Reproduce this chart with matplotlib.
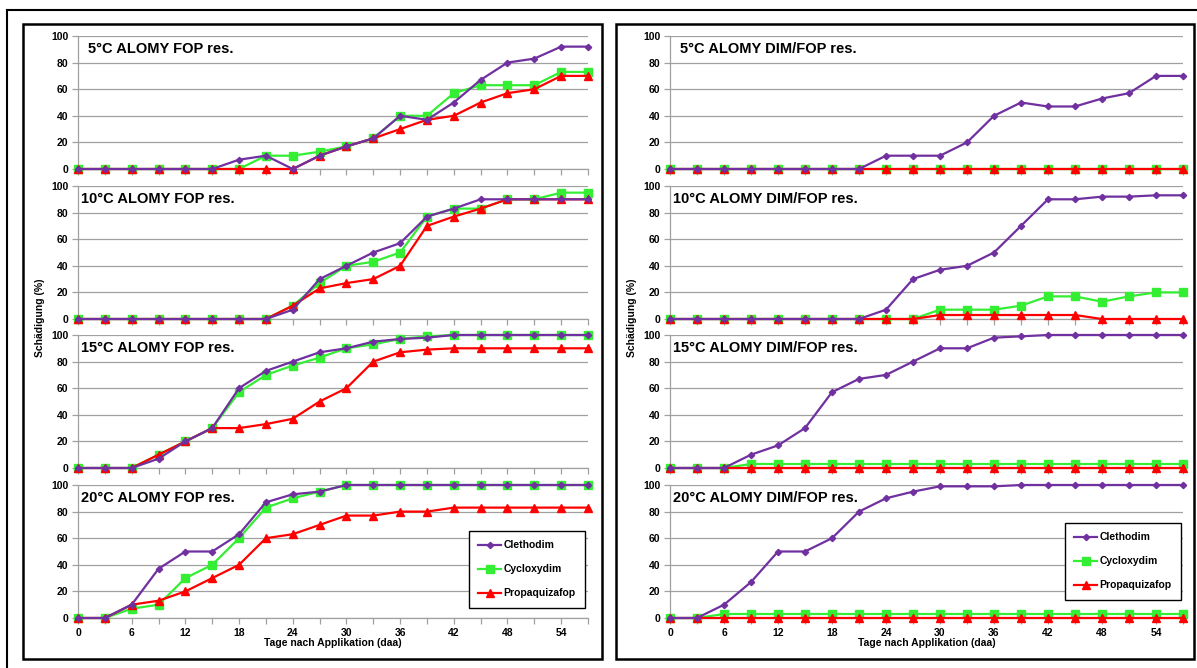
import matplotlib
matplotlib.use("Agg")
import matplotlib.pyplot as plt
from matplotlib.patches import Rectangle
from matplotlib.lines import Line2D
from matplotlib.ticker import MultipleLocator

plt.rcParams["font.family"] = ["Liberation Sans", "DejaVu Sans"]
plt.rcParams["font.weight"] = "bold"

# days after application
days = [0, 3, 6, 9, 12, 15, 18, 21, 24, 27, 30, 33, 36, 39, 42, 45, 48, 51, 54, 57]

# left block: ALOMY FOP res.
fop_5_cle = [0, 0, 0, 0, 0, 0, 7, 10, 0, 10, 17, 23, 40, 37, 50, 67, 80, 83, 92, 92]
fop_5_cyc = [0, 0, 0, 0, 0, 0, 0, 10, 10, 13, 17, 23, 40, 40, 57, 63, 63, 63, 73, 73]
fop_5_pro = [0, 0, 0, 0, 0, 0, 0, 0, 0, 10, 17, 23, 30, 37, 40, 50, 57, 60, 70, 70]

fop_10_cle = [0, 0, 0, 0, 0, 0, 0, 0, 7, 30, 40, 50, 57, 77, 83, 90, 90, 90, 90, 90]
fop_10_cyc = [0, 0, 0, 0, 0, 0, 0, 0, 10, 27, 40, 43, 50, 77, 83, 83, 90, 90, 95, 95]
fop_10_pro = [0, 0, 0, 0, 0, 0, 0, 0, 10, 23, 27, 30, 40, 70, 77, 83, 90, 90, 90, 90]

fop_15_cle = [0, 0, 0, 7, 20, 30, 60, 73, 80, 87, 90, 95, 97, 98, 100, 100, 100, 100, 100, 100]
fop_15_cyc = [0, 0, 0, 10, 20, 30, 57, 70, 77, 83, 90, 93, 97, 99, 100, 100, 100, 100, 100, 100]
fop_15_pro = [0, 0, 0, 10, 20, 30, 30, 33, 37, 50, 60, 80, 87, 89, 90, 90, 90, 90, 90, 90]

fop_20_cle = [0, 0, 10, 37, 50, 50, 63, 87, 93, 95, 100, 100, 100, 100, 100, 100, 100, 100, 100, 100]
fop_20_cyc = [0, 0, 7, 10, 30, 40, 60, 83, 90, 95, 100, 100, 100, 100, 100, 100, 100, 100, 100, 100]
fop_20_pro = [0, 0, 10, 13, 20, 30, 40, 60, 63, 70, 77, 77, 80, 80, 83, 83, 83, 83, 83, 83]

# right block: ALOMY DIM/FOP res.
dim_5_cle = [0, 0, 0, 0, 0, 0, 0, 0, 10, 10, 10, 20, 40, 50, 47, 47, 53, 57, 70, 70]
dim_5_cyc = [0, 0, 0, 0, 0, 0, 0, 0, 0, 0, 0, 0, 0, 0, 0, 0, 0, 0, 0, 0]
dim_5_pro = [0, 0, 0, 0, 0, 0, 0, 0, 0, 0, 0, 0, 0, 0, 0, 0, 0, 0, 0, 0]

dim_10_cle = [0, 0, 0, 0, 0, 0, 0, 0, 7, 30, 37, 40, 50, 70, 90, 90, 92, 92, 93, 93]
dim_10_cyc = [0, 0, 0, 0, 0, 0, 0, 0, 0, 0, 7, 7, 7, 10, 17, 17, 13, 17, 20, 20]
dim_10_pro = [0, 0, 0, 0, 0, 0, 0, 0, 0, 0, 3, 3, 3, 3, 3, 3, 0, 0, 0, 0]

dim_15_cle = [0, 0, 0, 10, 17, 30, 57, 67, 70, 80, 90, 90, 98, 99, 100, 100, 100, 100, 100, 100]
dim_15_cyc = [0, 0, 0, 3, 3, 3, 3, 3, 3, 3, 3, 3, 3, 3, 3, 3, 3, 3, 3, 3]
dim_15_pro = [0, 0, 0, 0, 0, 0, 0, 0, 0, 0, 0, 0, 0, 0, 0, 0, 0, 0, 0, 0]

dim_20_cle = [0, 0, 10, 27, 50, 50, 60, 80, 90, 95, 99, 99, 99, 100, 100, 100, 100, 100, 100, 100]
dim_20_cyc = [0, 0, 3, 3, 3, 3, 3, 3, 3, 3, 3, 3, 3, 3, 3, 3, 3, 3, 3, 3]
dim_20_pro = [0, 0, 0, 0, 0, 0, 0, 0, 0, 0, 0, 0, 0, 0, 0, 0, 0, 0, 0, 0]

titles_fop = ["5°C ALOMY FOP res.", "10°C ALOMY FOP res.",
              "15°C ALOMY FOP res.", "20°C ALOMY FOP res."]
titles_dim = ["5°C ALOMY DIM/FOP res.", "10°C ALOMY DIM/FOP res.",
              "15°C ALOMY DIM/FOP res.", "20°C ALOMY DIM/FOP res."]

names = ["Clethodim", "Cycloxydim", "Propaquizafop"]

W, H = 1197, 668
fig = plt.figure(figsize=(W / 100, H / 100), dpi=100)


def fx(x):
    return x / W


def fy(y):
    return 1 - y / H


# frames
fig.add_artist(Line2D([fx(7), fx(7)], [fy(10), 0], color="black", lw=1.5))
fig.add_artist(Line2D([fx(7), 1], [fy(10), fy(10)], color="black", lw=1.5))
for x0, x1 in [(23, 602), (616, 1194)]:
    fig.add_artist(Rectangle((fx(x0), fy(659)), fx(x1 - x0), (659 - 24) / H,
                             fill=False, edgecolor="black", lw=1.8))

grey = "#a0a0a0"
tops = [36, 186, 335, 485]
ax_h = 133

blocks = [
    (78, 588, titles_fop,
     [(fop_5_cle, fop_5_cyc, fop_5_pro), (fop_10_cle, fop_10_cyc, fop_10_pro),
      (fop_15_cle, fop_15_cyc, fop_15_pro), (fop_20_cle, fop_20_cyc, fop_20_pro)],
     (469, 531)),
    (670, 1183, titles_dim,
     [(dim_5_cle, dim_5_cyc, dim_5_pro), (dim_10_cle, dim_10_cyc, dim_10_pro),
      (dim_15_cle, dim_15_cyc, dim_15_pro), (dim_20_cle, dim_20_cyc, dim_20_pro)],
     (1065, 523)),
]

for left, right, titles, series, leg_pos in blocks:
    for i, top in enumerate(tops):
        ax = fig.add_axes([fx(left), fy(top + ax_h), (right - left) / W, ax_h / H])
        ax.set_facecolor("none")
        cle, cyc, pro = series[i]
        h_cyc, = ax.plot(days, cyc, color="#33ee33", lw=1.6, marker="s", ms=5.5, zorder=3,
                         clip_on=False)
        h_pro, = ax.plot(days, pro, color="#ff0000", lw=1.6, marker="^", ms=5.5, zorder=4,
                         clip_on=False)
        h_cle, = ax.plot(days, cle, color="#7030a0", lw=1.6, marker="D", ms=3.2, zorder=5,
                         clip_on=False)

        ax.set_xlim(0, 57)
        ax.set_ylim(0, 100)
        ax.yaxis.set_major_locator(MultipleLocator(20))
        ax.xaxis.set_major_locator(MultipleLocator(6))
        ax.xaxis.set_minor_locator(MultipleLocator(3))
        ax.grid(axis="y", color=grey, lw=0.9)
        ax.set_axisbelow(True)
        for s in ["top", "right"]:
            ax.spines[s].set_visible(False)
        for s in ["left", "bottom"]:
            ax.spines[s].set_color(grey)
            ax.spines[s].set_linewidth(0.9)
        ax.tick_params(axis="both", which="both", color=grey, length=4, width=0.9,
                       labelsize=7.5, pad=3)
        for lab in ax.get_yticklabels():
            lab.set_fontweight("bold")
        if i < 3:
            ax.tick_params(axis="x", labelbottom=False)
        else:
            for lab in ax.get_xticklabels():
                lab.set_fontweight("bold")

        ax.text(fx(10 if i == 0 else 3) * W / (right - left), 1 - 13 / ax_h, titles[i],
                transform=ax.transAxes, fontsize=10.5, fontweight="bold",
                va="center", ha="left", zorder=6)

        if i == 3:
            fig.legend([h_cle, h_cyc, h_pro], names, loc="upper left",
                       bbox_to_anchor=(fx(leg_pos[0]), fy(leg_pos[1])),
                       bbox_transform=fig.transFigure,
                       fancybox=False, edgecolor="black", framealpha=1,
                       prop={"size": 7.5, "weight": "bold"},
                       handlelength=2.2, handletextpad=0.2, labelspacing=1.35,
                       borderpad=0.9, borderaxespad=0)

    mid = (left + right) / 2
    fig.text(fx(mid), fy(643), "Tage nach Applikation (daa)", ha="center", va="center",
             fontsize=7.5, fontweight="bold")
    fig.text(fx(left - 38), fy(318), "Schädigung (%)", ha="center", va="center",
             rotation=90, fontsize=7.5, fontweight="bold")

fig.savefig("out.png", dpi=100)
